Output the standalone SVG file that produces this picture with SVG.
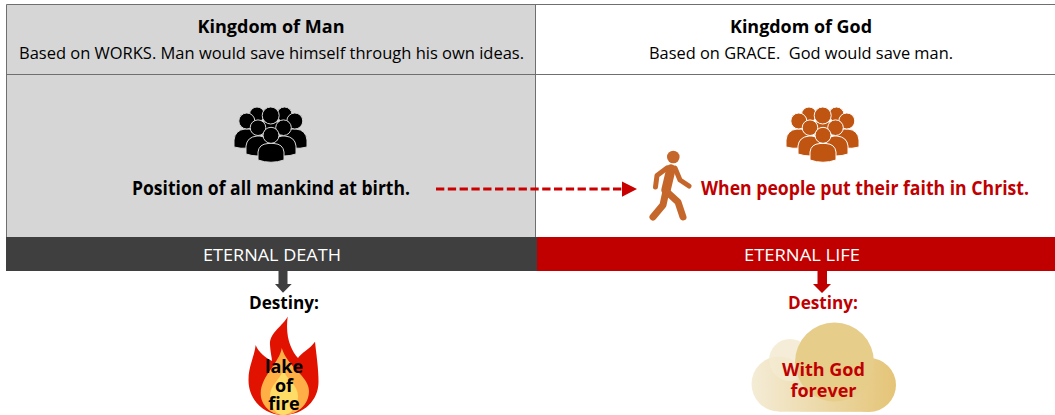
<svg xmlns="http://www.w3.org/2000/svg" width="1055" height="415" viewBox="0 0 1055 415">
<style>
text{font-family:"Open Sans","Noto Sans","Liberation Sans",sans-serif;text-anchor:middle;font-size:16.5px;fill:#000}
.b{font-weight:700}
.h{font-size:17.5px}
.m{font-size:19px}
.w{fill:#fff;font-size:17px}
.d{font-size:18px}
.l{font-size:18px}
.r{fill:#c00000}
.line{stroke:#6f6f6f;stroke-width:1;fill:none}
.crowd path,.crowd circle{stroke-width:1.1}
.walk{fill:none;stroke:#c5672b;stroke-linecap:round;stroke-linejoin:round}
</style>
<defs>
<g id="crowdShape">
<circle cx="257" cy="114.500" r="7.500"/><circle cx="284.500" cy="114.500" r="7.500"/>
<path d="M234 147V140Q235 130 245 129H249Q258 130 259 140V151L250 148Q240 149 234 147Z"/>
<path d="M307 147V140Q306 130 296 129H292Q283 130 282 140V151L291 148Q301 149 307 147Z"/>
<circle cx="246.800" cy="121" r="8"/><circle cx="294.800" cy="121" r="8"/>
<path d="M260 122H281V135H260Z"/>
<circle cx="270.700" cy="115.500" r="8.500"/>
<path d="M246 154V146Q247 137 257 136H260Q269 137 270 146V158L258 156Q252 156 246 154Z"/>
<path d="M296 154V146Q295 137 285 136H282Q273 137 272 146V158L284 156Q290 156 296 154Z"/>
<circle cx="258" cy="127.700" r="7.800"/><circle cx="283.500" cy="127.700" r="7.800"/>
<path d="M258 160V152Q259 144 268 143.500H274Q283 144 284 152V160Q271 164.500 258 160Z"/>
<circle cx="271" cy="135.300" r="8"/>
</g>
<linearGradient id="cloudFill" gradientUnits="userSpaceOnUse" x1="752" x2="896" y1="370" y2="370">
<stop offset="0" stop-color="#f4ecd6"/><stop offset="1" stop-color="#e4c477"/>
</linearGradient>
</defs>
<rect width="1055" height="415" fill="#fff"/>
<g id="panel-man">
<rect x="6.500" y="4.500" width="529" height="233" fill="#d6d6d6"/>
<path class="line" d="M6.500 237V4.500H1055M6.500 74.500H1055M535.500 4.500V237"/>
<text class="b h" x="271" y="33" textLength="147" lengthAdjust="spacingAndGlyphs">Kingdom of Man</text>
<text x="271.500" y="59" textLength="505" lengthAdjust="spacingAndGlyphs">Based on WORKS. Man would save himself through his own ideas.</text>
</g>
<g id="panel-god">
<text class="b h" x="801" y="33" textLength="142" lengthAdjust="spacingAndGlyphs">Kingdom of God</text>
<text x="801" y="59" textLength="304" lengthAdjust="spacingAndGlyphs" xml:space="preserve">Based on GRACE.  God would save man.</text>
</g>
<g id="crowd-man" class="crowd" fill="#000" stroke="#d6d6d6"><use href="#crowdShape"/></g>
<g id="crowd-god" class="crowd" fill="#bf5510" stroke="#fff" transform="translate(552 0)"><use href="#crowdShape"/></g>
<g id="label-birth"><text class="b m" x="271" y="195" textLength="278" lengthAdjust="spacingAndGlyphs">Position of all mankind at birth.</text></g>
<g id="walker">
<circle cx="673.300" cy="157" r="6.300" fill="#c5672b"/>
<path class="walk" stroke-width="5" d="M667 168L657 175.500L655.500 187M675 168L680 180L689 186"/>
<path class="walk" stroke-width="9.500" d="M671 169L666 190"/>
<path class="walk" stroke-width="7" d="M666 191L678 202L683 217M666 191L663 205L653 217"/>
</g>
<g id="label-faith"><text class="b m r" x="865" y="195" textLength="328" lengthAdjust="spacingAndGlyphs">When people put their faith in Christ.</text></g>
<g id="bar-death">
<rect x="6" y="237" width="531" height="34" fill="#3f3f3f"/>
<text class="w" x="272" y="260.500" textLength="138" lengthAdjust="spacingAndGlyphs">ETERNAL DEATH</text>
</g>
<g id="bar-life">
<rect x="537" y="237" width="518" height="34" fill="#c00000"/>
<text class="w" x="802" y="260.500" textLength="116" lengthAdjust="spacingAndGlyphs">ETERNAL LIFE</text>
</g>
<g id="connectors">
<path d="M436 189H622" fill="none" stroke="#cc0000" stroke-width="3" stroke-dasharray="8.300 3.500"/>
<path d="M622 181.500L637 189L622 196.700Z" fill="#c80000"/>
<path d="M278.500 271H287.500V284H291.700L283 292.700L275 284H278.500Z" fill="#3f3f3f"/>
<path d="M817.500 271H827V284H831L822 293L813 284H817.500Z" fill="#c00000"/>
</g>
<g id="destiny-man">
<text class="b d" x="284" y="309" textLength="70" lengthAdjust="spacingAndGlyphs">Destiny:</text>
<path d="M287.700 316.500C283 326 269 333 270 345C270.500 353 272 358 272 361C266 358 258 352 255.700 345C254 358 248.500 366 248.500 380C248.500 400 264 415 283 415C304 415 318.500 400 318.500 382C318.500 368 316 352 315 341.700C310 349 301 353 298 358C291 350 285 337 287.700 316.500Z" fill="#e11300"/>
<path d="M281.700 348C280 362 261 376 260.700 393C260.500 405 271 415 283 415C297 415 309 405 309 391C309 376 288 368 281.700 348Z" fill="#ffaf45"/>
<path d="M283 370C280 380 270 385 270 396C270 406 276 415 283 415C291 415 298 406 298 396C298 385 287 380 283 370Z" fill="#ffdc66"/>
<text class="b l"><tspan x="284" y="373">lake</tspan><tspan x="284" y="392">of</tspan><tspan x="284" y="410">fire</tspan></text>
</g>
<g id="destiny-god">
<text class="b d r" x="823" y="309" textLength="70" lengthAdjust="spacingAndGlyphs">Destiny:</text>
<circle cx="779" cy="384" r="27.500" fill="url(#cloudFill)"/>
<circle cx="869" cy="385" r="27" fill="url(#cloudFill)"/>
<rect x="779" y="375" width="90" height="36.700" fill="url(#cloudFill)"/>
<circle cx="790" cy="360" r="21" fill="#f3ead0" fill-opacity=".85"/>
<circle cx="834.500" cy="362" r="39.500" fill="#e6cd8a"/>
<path d="M795.500 369A39.500 39.500 0 0 0 874 362C874 378 872 386 866 411.700H800Z" fill="url(#cloudFill)" fill-opacity=".6"/>
<text class="b l r" style="font-size:18px"><tspan x="823.500" y="375.700">With God</tspan><tspan x="823.500" y="396.700">forever</tspan></text>
</g>
</svg>
